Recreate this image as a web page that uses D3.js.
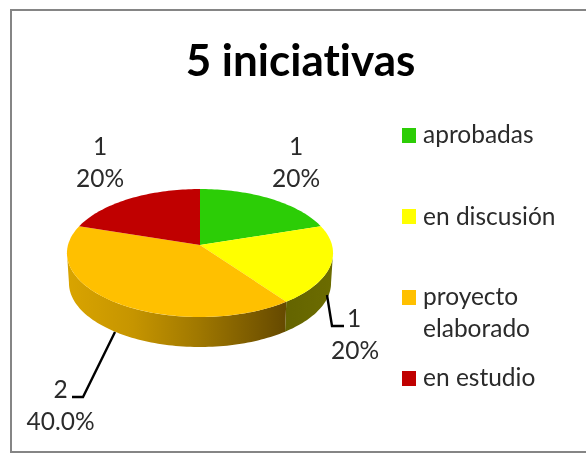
<!DOCTYPE html>
<html>
<head>
<meta charset="utf-8">
<script src="https://cdn.jsdelivr.net/npm/d3@7"></script>
<style>
  html, body { margin: 0; padding: 0; background: #fff; overflow: hidden; }
  svg { display: block; filter: blur(0.4px); }
  text { font-family: Lato, "Open Sans", sans-serif; fill: #2b2b2b; font-variant-ligatures: none; }
</style>
</head>
<body>
<svg></svg>
<script>
let title = '5 iniciativas'
let categories = ['aprobadas', 'en discusión', 'proyecto elaborado', 'en estudio']
let values = [1, 1, 2, 1]
let percents = ['20%', '20%', '40.0%', '20%']
let colors = ['#2ccd06', '#ffff00', '#ffc000', '#c00000']

let width = 586
let height = 453
let svg = d3.select('svg').attr('width', width).attr('height', height)

// chart frame, the right edge runs off the picture
svg.append('rect')
   .attr('x', 11).attr('y', 10)
   .attr('width', 590).attr('height', 442)
   .attr('fill', '#fff').attr('stroke', '#858585').attr('stroke-width', 2)

svg.append('text')
   .attr('x', 300.5).attr('y', 76)
   .attr('text-anchor', 'middle')
   .style('font-size', '44px').style('font-weight', 700).style('fill', '#000')
   .text(title)

// the disc is tilted, so the near side looks bigger than the far side
let cx = 200, cy = 245, rx = 132, ry = 63, tilt = 0.125, depth = 30, bottomScale = 0.985
let project = (angle, dy = 0, sx = 1) => {
    let u = Math.sin(angle), v = -Math.cos(angle)
    let k = 1 / (1 - tilt * v)
    return [cx + rx * sx * u * k, cy + ry * v * k + dy]
}
let arcPoints = (a0, a1, dy = 0, sx = 1) => {
    let n = Math.max(2, Math.ceil((a1 - a0) * 40))
    return d3.range(n + 1).map((i) => project(a0 + (a1 - a0) * i / n, dy, sx))
}
let line = d3.line()
let pie = d3.pie().sort(null)
let slices = pie(values)

let defs = svg.append('defs')
let addGradient = (id, x1, x2, stops) => {
    let g = defs.append('linearGradient')
        .attr('id', id).attr('gradientUnits', 'userSpaceOnUse')
        .attr('x1', x1).attr('x2', x2).attr('y1', 0).attr('y2', 0)
    stops.forEach((s) => g.append('stop').attr('offset', s[0]).attr('stop-color', s[1]))
}
addGradient('wall-orange', 67, 285, [[0, '#d9a400'], [0.3, '#c69500'], [0.6, '#a07800'], [1, '#664a00']])
addGradient('wall-yellow', 285, 333, [[0, '#646400'], [1, '#6c6c00']])

// side wall, only the near half of the disc shows it
let wallStart = Math.PI / 2 + 0.12
let wallEnd = Math.PI * 3 / 2 - 0.12
let walls = [
    { a0: wallStart, a1: slices[1].endAngle, fill: 'url(#wall-yellow)' },
    { a0: slices[2].startAngle, a1: wallEnd, fill: 'url(#wall-orange)' }
]
svg.selectAll('path.wall')
   .data(walls)
   .enter()
   .append('path')
   .attr('class', 'wall')
   .attr('fill', (d) => d.fill)
   .attr('d', (d) => line(arcPoints(d.a0, d.a1).concat(arcPoints(d.a0, d.a1, depth, bottomScale).reverse())) + 'Z')

// top of the disc
svg.selectAll('path.slice')
   .data(slices)
   .enter()
   .append('path')
   .attr('class', 'slice')
   .attr('fill', (d, i) => colors[i])
   .attr('d', (d) => line([[cx, cy]].concat(arcPoints(d.startAngle, d.endAngle))) + 'Z')

// leader lines
let leaders = [
    [[327, 295], [332, 326], [344, 326]],
    [[115, 332], [83, 397], [72, 397]]
]
svg.selectAll('path.leader')
   .data(leaders)
   .enter()
   .append('path')
   .attr('class', 'leader')
   .attr('fill', 'none').attr('stroke', '#000').attr('stroke-width', 2.4)
   .attr('d', (d) => line(d))

// data labels
let labelPos = [[296, 155], [354, 327], [60.5, 398], [100, 155]]
let labelPctX = [296, 355, 60.5, 100]
let labels = svg.selectAll('g.label')
   .data(slices)
   .enter()
   .append('g')
   .attr('class', 'label')
   .style('font-size', '24.5px')
labels.append('text')
   .attr('x', (d, i) => labelPos[i][0]).attr('y', (d, i) => labelPos[i][1])
   .attr('text-anchor', 'middle')
   .text((d) => d.value)
labels.append('text')
   .attr('x', (d, i) => labelPctX[i]).attr('y', (d, i) => labelPos[i][1] + 32)
   .attr('text-anchor', 'middle')
   .text((d, i) => percents[i])

// legend
let legendBox = [128, 209, 290, 371]
let legendText = [143, 225, 305, 386]
let legend = svg.selectAll('g.legend')
   .data(categories)
   .enter()
   .append('g')
   .attr('class', 'legend')
legend.append('rect')
   .attr('x', 402).attr('y', (d, i) => legendBox[i])
   .attr('width', 14).attr('height', 15)
   .attr('fill', (d, i) => colors[i])
legend.append('text')
   .attr('x', 423).attr('y', (d, i) => legendText[i])
   .style('font-size', '24.5px')
   .text((d) => d === 'proyecto elaborado' ? 'proyecto' : d)
legend.filter((d) => d === 'proyecto elaborado')
   .append('text')
   .attr('x', 423).attr('y', legendText[2] + 32)
   .style('font-size', '24.5px')
   .text('elaborado')
</script>
</body>
</html>
